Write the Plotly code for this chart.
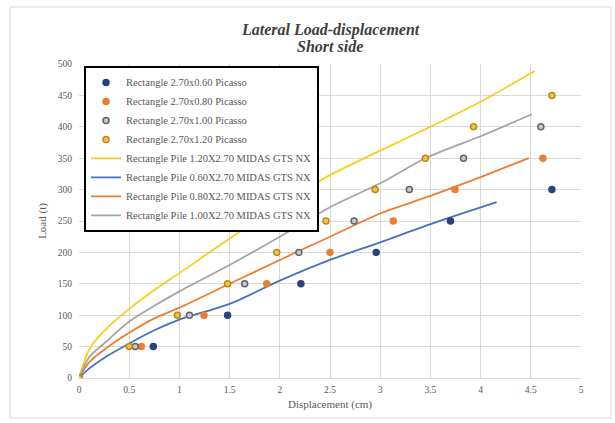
import plotly.graph_objects as go

# Picasso test points (displacement cm, load t)
p060_x = [0, 0.74, 1.48, 2.21, 2.96, 3.70, 4.71]
p060_y = [0, 50, 100, 150, 200, 250, 300]
p080_x = [0, 0.62, 1.245, 1.87, 2.50, 3.13, 3.745, 4.62]
p080_y = [0, 50, 100, 150, 200, 250, 300, 350]
p100_x = [0, 0.56, 1.10, 1.65, 2.19, 2.74, 3.29, 3.83, 4.60]
p100_y = [0, 50, 100, 150, 200, 250, 300, 350, 400]
p120_x = [0, 0.50, 0.98, 1.48, 1.97, 2.46, 2.95, 3.45, 3.93, 4.71]
p120_y = [0, 50, 100, 150, 200, 250, 300, 350, 400, 450]

# MIDAS GTS NX curves
m120_x = [0, 0.1, 0.25, 0.5, 0.75, 1.0, 1.5, 2.0, 2.5, 3.0, 3.5, 4.0, 4.54]
m120_y = [0, 45, 75, 110, 140, 167, 222, 275, 323, 362, 400, 440, 489]
m060_x = [0, 0.1, 0.25, 0.5, 0.75, 1.0, 1.5, 2.0, 2.5, 3.0, 3.5, 4.16]
m060_y = [0, 15, 32, 55, 76, 93, 118, 155, 188, 216, 245, 280]
m080_x = [0, 0.1, 0.25, 0.5, 0.75, 1.0, 1.5, 2.0, 2.5, 3.0, 3.5, 4.0, 4.48]
m080_y = [0, 25, 45, 72, 95, 112, 150, 188, 225, 262, 290, 320, 350]
m100_x = [0, 0.1, 0.25, 0.5, 0.75, 1.0, 1.5, 2.0, 2.5, 3.0, 3.45, 4.0, 4.51]
m100_y = [0, 33, 55, 90, 115, 138, 180, 225, 272, 310, 350, 385, 420]

FONT = "Liberation Serif, Times New Roman, serif"
fig = go.Figure()

lines = [
    ("Rectangle Pile 1.20X2.70 MIDAS GTS NX", m120_x, m120_y, "#F5D01E", 5),
    ("Rectangle Pile 0.60X2.70 MIDAS GTS NX", m060_x, m060_y, "#4472C4", 6),
    ("Rectangle Pile 0.80X2.70 MIDAS GTS NX", m080_x, m080_y, "#ED7D31", 7),
    ("Rectangle Pile 1.00X2.70 MIDAS GTS NX", m100_x, m100_y, "#A5A5A5", 8),
]
for name, xs, ys, c, rank in lines:
    fig.add_trace(go.Scatter(x=xs, y=ys, mode="lines", name=name, legendrank=rank,
                             line=dict(color=c, width=1.8, shape="spline", smoothing=0.8)))

pts = [
    ("Rectangle 2.70x0.60 Picasso", p060_x, p060_y, "#264478", "#264478", 1),
    ("Rectangle 2.70x0.80 Picasso", p080_x, p080_y, "#ED7D31", "#ED7D31", 2),
    ("Rectangle 2.70x1.00 Picasso", p100_x, p100_y, "#C9C9C9", "#5E6470", 3),
    ("Rectangle 2.70x1.20 Picasso", p120_x, p120_y, "#F2C14E", "#C08A10", 4),
]
for name, xs, ys, fc, lc, rank in pts:
    fig.add_trace(go.Scatter(x=xs, y=ys, mode="markers", name=name, legendrank=rank,
                             marker=dict(color=fc, size=6, line=dict(color=lc, width=1.5))))

fig.update_layout(
    width=615, height=423,
    margin=dict(l=79, r=34, t=64, b=45),
    paper_bgcolor="white", plot_bgcolor="white",
    font=dict(family=FONT, color="#595959", size=9.5),
    xaxis=dict(range=[0, 5], dtick=0.5, showgrid=True, gridcolor="#D9D9D9", gridwidth=1,
               zeroline=False, showline=True, linecolor="#D9D9D9", ticks="",
               tickfont=dict(family=FONT, size=9.5, color="#595959"), ticklabelstandoff=3,
               title=dict(text="Displacement (cm)",
                          font=dict(family=FONT, size=11, color="#595959"), standoff=5)),
    yaxis=dict(range=[0, 500], dtick=50, showgrid=True, gridcolor="#D9D9D9", gridwidth=1,
               zeroline=False, showline=False, ticks="",
               tickfont=dict(family=FONT, size=9.5, color="#595959"), ticklabelstandoff=6,
               title=dict(text="Load (t)",
                          font=dict(family=FONT, size=11, color="#595959"), standoff=8)),
    legend=dict(x=0.01, y=0.994, xanchor="left", yanchor="top",
                bgcolor="white", bordercolor="#000000", borderwidth=2,
                font=dict(family=FONT, size=10.5, color="#595959"),
                tracegroupgap=0, itemwidth=30),
    showlegend=True,
)
fig.add_annotation(text="<b><i>Lateral Load-displacement</i></b>", xref="paper", yref="paper",
                   x=(330 - 79) / 502, y=(378 - 30) / 314, xanchor="center", yanchor="middle",
                   showarrow=False, font=dict(family=FONT, size=16, color="#404040"))
fig.add_annotation(text="<b><i>Short side</i></b>", xref="paper", yref="paper",
                   x=(330 - 79) / 502, y=(378 - 47) / 314, xanchor="center", yanchor="middle",
                   showarrow=False, font=dict(family=FONT, size=16, color="#404040"))
fig.add_shape(type="rect", xref="paper", yref="paper",
              x0=(10 - 79) / 502, x1=(611 - 79) / 502,
              y0=(378 - 418) / 314, y1=(378 - 7) / 314,
              line=dict(color="#D9D9D9", width=1), layer="below")

fig.write_html("out.html")
